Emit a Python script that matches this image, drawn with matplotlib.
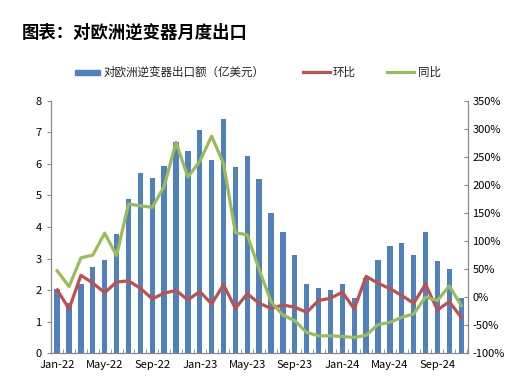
import numpy as np
import matplotlib.pyplot as plt
from matplotlib.patches import Rectangle
from matplotlib.lines import Line2D

plt.rcParams['font.family'] = ['Noto Sans CJK SC', 'DejaVu Sans']

# monthly data, Jan-22 .. Nov-24
months = ['Jan-22', 'Feb-22', 'Mar-22', 'Apr-22', 'May-22', 'Jun-22', 'Jul-22', 'Aug-22',
          'Sep-22', 'Oct-22', 'Nov-22', 'Dec-22', 'Jan-23', 'Feb-23', 'Mar-23', 'Apr-23',
          'May-23', 'Jun-23', 'Jul-23', 'Aug-23', 'Sep-23', 'Oct-23', 'Nov-23', 'Dec-23',
          'Jan-24', 'Feb-24', 'Mar-24', 'Apr-24', 'May-24', 'Jun-24', 'Jul-24', 'Aug-24',
          'Sep-24', 'Oct-24', 'Nov-24']
export_value = [2.03, 1.59, 2.20, 2.74, 2.96, 3.77, 4.88, 5.70, 5.55, 5.92, 6.68, 6.40,
                7.06, 6.13, 7.43, 5.90, 6.24, 5.52, 4.44, 3.83, 3.12, 2.20, 2.06, 2.01,
                2.19, 1.74, 2.38, 2.96, 3.40, 3.49, 3.12, 3.83, 2.91, 2.66, 1.74]
mom = [13, -21, 39, 25, 8, 27, 29, 16, -3, 7, 12, -5,
       10, -12, 22, -20, 6, -11, -20, -14, -18, -27, -6, -2,
       9, -21, 37, 25, 15, 3, -11, 23, -23, -8, -36]
yoy = [47, 19, 70, 75, 114, 74, 166, 163, 160, 197, 276, 214,
       242, 287, 238, 115, 111, 49, -8, -32, -42, -63, -69, -69,
       -70, -72, -68, -49, -45, -36, -30, 0, -6, 20, -15]
legend_labels = ['对欧洲逆变器出口额（亿美元）', '环比', '同比']

blue = '#4F81BD'
red = '#C0504D'
green = '#9BBB59'

W, H = 522, 379
fig = plt.figure(figsize=(W / 100, H / 100), dpi=100)
ax = fig.add_axes([0.097, 0.068, 0.799, 0.666])
ax2 = ax.twinx()

x = np.arange(len(months))
ax.bar(x, export_value, width=0.45, color=blue, zorder=1)
ax2.plot(x, mom, color=red, lw=2.3, zorder=3)
ax2.plot(x, yoy, color=green, lw=2.3, zorder=3)

ax.set_xlim(-0.55, len(months) - 0.45)
ax.set_ylim(0, 8)
ax2.set_ylim(-100, 350)
ax.set_yticks(range(0, 9))
ax2.set_yticks(range(-100, 351, 50))
ax2.set_yticklabels([str(v) + '%' for v in range(-100, 351, 50)])
ax.set_xticks(x[::4])
ax.set_xticklabels(months[::4])
ax.set_xticks(np.arange(-0.5, len(months), 1), minor=True)

for a in (ax, ax2):
    a.spines['top'].set_visible(False)
    for s in ('left', 'right', 'bottom'):
        a.spines[s].set_color('#888888')
        a.spines[s].set_linewidth(0.8)
ax.tick_params(axis='x', which='major', length=0, labelsize=8, pad=5)
ax.tick_params(axis='x', which='minor', direction='in', length=3, color='#888888')
ax.tick_params(axis='y', direction='out', length=3, labelsize=8, color='#888888')
ax2.tick_params(axis='y', direction='in', length=3, labelsize=8, color='#888888')
ax.set_zorder(0)
ax2.set_zorder(1)

fig.text(22 / W, 1 - 33 / H, '图表：对欧洲逆变器月度出口', fontsize=12.5, fontweight='bold', va='center')

# hand-placed legend row
ly = 1 - 72 / H
fig.add_artist(Rectangle((75 / W, ly - 2.5 / H), 25 / W, 5 / H, transform=fig.transFigure, color=blue))
fig.add_artist(Line2D([303 / W, 330 / W], [ly, ly], transform=fig.transFigure, color=red, lw=2.3))
fig.add_artist(Line2D([387 / W, 414 / W], [ly, ly], transform=fig.transFigure, color=green, lw=2.3))
for xt, lab in zip([104, 333, 418], legend_labels):
    fig.text(xt / W, ly, lab, fontsize=8.3, va='center', color='#222222')

fig.savefig('out.png', dpi=100)
